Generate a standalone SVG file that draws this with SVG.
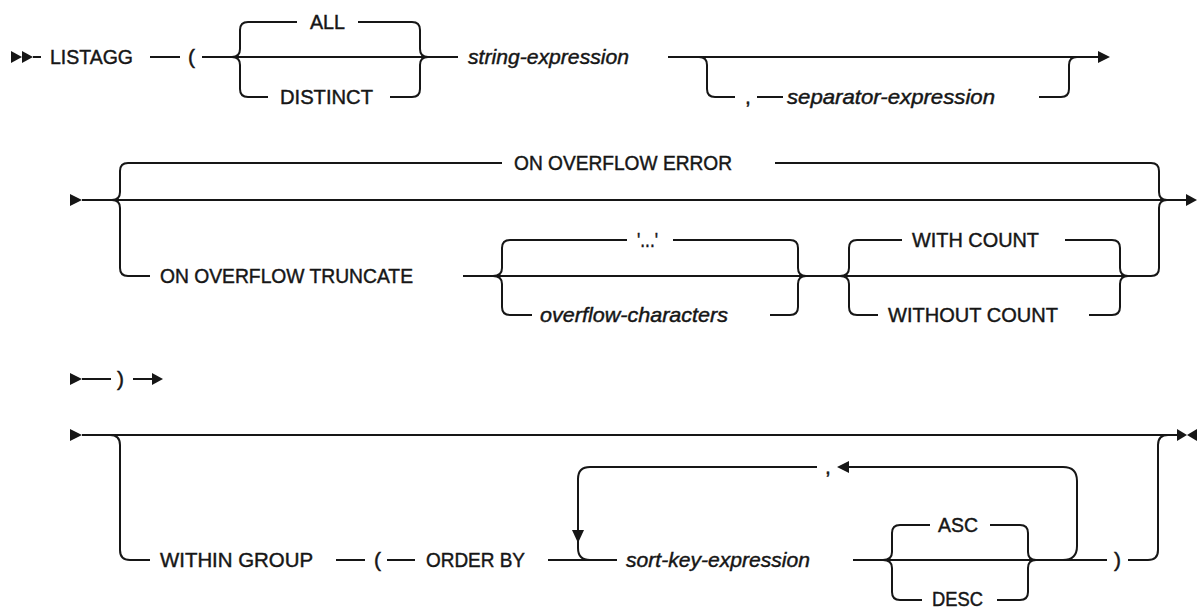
<svg xmlns="http://www.w3.org/2000/svg" width="1197" height="608" viewBox="0 0 1197 608">
<style>
.ln{fill:none;stroke:#161616;stroke-width:2}
.ah{fill:#161616;stroke:none}
text{font-family:"Liberation Sans",Arial,sans-serif;font-size:21px;fill:#161616;stroke:#161616;stroke-width:0.45}
.it{font-style:italic}
</style>
<rect width="1197" height="608" fill="#ffffff"/>
<g id="connectors">
<!-- row 1 -->
<polygon class="ah" points="11,51 22,57 11,63"/>
<polygon class="ah" points="22,51 33,57 22,63"/>
<path class="ln" d="M33 57 H41"/>
<path class="ln" d="M150 57 H180"/>
<path class="ln" d="M202 57 H458"/>
<path class="ln" d="M232 57 Q240 57 240 49 V30 Q240 22 248 22 H297"/>
<path class="ln" d="M358 22 H412 Q420 22 420 30 V49 Q420 57 428 57"/>
<path class="ln" d="M232 57 Q240 57 240 65 V89 Q240 97 248 97 H268"/>
<path class="ln" d="M390 97 H412 Q420 97 420 89 V65 Q420 57 428 57"/>
<path class="ln" d="M668 57 H1099"/>
<polygon class="ah" points="1098,51 1110,57 1098,63"/>
<path class="ln" d="M699 57 Q707 57 707 65 V89 Q707 97 715 97 H735"/>
<path class="ln" d="M757 97 H783"/>
<path class="ln" d="M1039 97 H1061 Q1069 97 1069 89 V65 Q1069 57 1077 57"/>
<!-- row 2 -->
<polygon class="ah" points="70,194 82,200 70,206"/>
<path class="ln" d="M82 200 H1187"/>
<polygon class="ah" points="1186,194 1197,200 1186,206"/>
<path class="ln" d="M112 200 Q120 200 120 192 V171 Q120 163 128 163 H502"/>
<path class="ln" d="M775 163 H1151 Q1159 163 1159 171 V192 Q1159 200 1167 200"/>
<path class="ln" d="M112 200 Q120 200 120 208 V268 Q120 276 128 276 H150"/>
<path class="ln" d="M463 276 H1151 Q1159 276 1159 268 V208 Q1159 200 1167 200"/>
<path class="ln" d="M493 276 Q502 276 502 268 V248 Q502 240 510 240 H627"/>
<path class="ln" d="M673 240 H790 Q798 240 798 248 V268 Q798 276 806 276"/>
<path class="ln" d="M493 276 Q502 276 502 284 V307 Q502 315 510 315 H532"/>
<path class="ln" d="M770 315 H790 Q798 315 798 307 V284 Q798 276 806 276"/>
<path class="ln" d="M840 276 Q849 276 849 268 V248 Q849 240 857 240 H902"/>
<path class="ln" d="M1065 240 H1112 Q1120 240 1120 248 V268 Q1120 276 1128 276"/>
<path class="ln" d="M840 276 Q849 276 849 284 V307 Q849 315 857 315 H878"/>
<path class="ln" d="M1089 315 H1112 Q1120 315 1120 307 V284 Q1120 276 1128 276"/>
<!-- row 3 -->
<polygon class="ah" points="70,373 82,379 70,385"/>
<path class="ln" d="M82 379 H111"/>
<path class="ln" d="M133 379 H153"/>
<polygon class="ah" points="152,373 163,379 152,385"/>
<!-- row 4 -->
<polygon class="ah" points="70,429 82,435 70,441"/>
<path class="ln" d="M82 435 H1178"/>
<polygon class="ah" points="1177,429 1187,435 1177,441"/>
<polygon class="ah" points="1197,429 1187,435 1197,441"/>
<path class="ln" d="M110 435 Q120 435 120 445 V550 Q120 560 130 560 H150"/>
<path class="ln" d="M336 560 H365"/>
<path class="ln" d="M387 560 H415"/>
<path class="ln" d="M548 560 H617"/>
<path class="ln" d="M817 467 H590 Q578 467 578 479 V548 Q578 560 590 560"/>
<polygon class="ah" points="572,530 584,530 578,543"/>
<path class="ln" d="M853 560 H1107"/>
<path class="ln" d="M883 560 Q892 560 892 552 V533 Q892 525 900 525 H930"/>
<path class="ln" d="M990 525 H1020 Q1028 525 1028 533 V552 Q1028 560 1036 560"/>
<path class="ln" d="M883 560 Q892 560 892 568 V592 Q892 600 900 600 H922"/>
<path class="ln" d="M997 600 H1020 Q1028 600 1028 592 V568 Q1028 560 1036 560"/>
<path class="ln" d="M1063 560 Q1077 560 1077 546 V481 Q1077 467 1063 467 H847"/>
<polygon class="ah" points="849,461 837,467 849,473"/>
<path class="ln" d="M1128 560 H1148 Q1158 560 1158 550 V445 Q1158 435 1168 435"/>
</g>
<g id="n-listagg"><text x="50" y="64" textLength="83" lengthAdjust="spacingAndGlyphs">LISTAGG</text></g>
<g id="n-lparen1"><text x="188" y="64">(</text></g>
<g id="n-all"><text x="310" y="29" textLength="35" lengthAdjust="spacingAndGlyphs">ALL</text></g>
<g id="n-distinct"><text x="280" y="104" textLength="93" lengthAdjust="spacingAndGlyphs">DISTINCT</text></g>
<g id="n-string-expression"><text class="it" x="468" y="64" textLength="161" lengthAdjust="spacingAndGlyphs">string-expression</text></g>
<g id="n-comma1"><text x="745" y="104">,</text></g>
<g id="n-separator-expression"><text class="it" x="787" y="104" textLength="208" lengthAdjust="spacingAndGlyphs">separator-expression</text></g>
<g id="n-on-overflow-error"><text x="514" y="170" textLength="218" lengthAdjust="spacingAndGlyphs">ON OVERFLOW ERROR</text></g>
<g id="n-on-overflow-truncate"><text x="160" y="283" textLength="253" lengthAdjust="spacingAndGlyphs">ON OVERFLOW TRUNCATE</text></g>
<g id="n-ellipsis"><text x="637" y="247" textLength="21" lengthAdjust="spacingAndGlyphs">'...'</text></g>
<g id="n-overflow-characters"><text class="it" x="540" y="322" textLength="188" lengthAdjust="spacingAndGlyphs">overflow-characters</text></g>
<g id="n-with-count"><text x="912" y="247" textLength="127" lengthAdjust="spacingAndGlyphs">WITH COUNT</text></g>
<g id="n-without-count"><text x="888" y="322" textLength="170" lengthAdjust="spacingAndGlyphs">WITHOUT COUNT</text></g>
<g id="n-rparen1"><text x="117" y="386">)</text></g>
<g id="n-within-group"><text x="160" y="567" textLength="153" lengthAdjust="spacingAndGlyphs">WITHIN GROUP</text></g>
<g id="n-lparen2"><text x="374" y="567">(</text></g>
<g id="n-order-by"><text x="426" y="567" textLength="99" lengthAdjust="spacingAndGlyphs">ORDER BY</text></g>
<g id="n-sort-key-expression"><text class="it" x="626" y="567" textLength="184" lengthAdjust="spacingAndGlyphs">sort-key-expression</text></g>
<g id="n-comma2"><text x="825" y="474">,</text></g>
<g id="n-asc"><text x="938" y="532" textLength="40" lengthAdjust="spacingAndGlyphs">ASC</text></g>
<g id="n-desc"><text x="932" y="606" textLength="51" lengthAdjust="spacingAndGlyphs">DESC</text></g>
<g id="n-rparen2"><text x="1114" y="567">)</text></g>
</svg>
